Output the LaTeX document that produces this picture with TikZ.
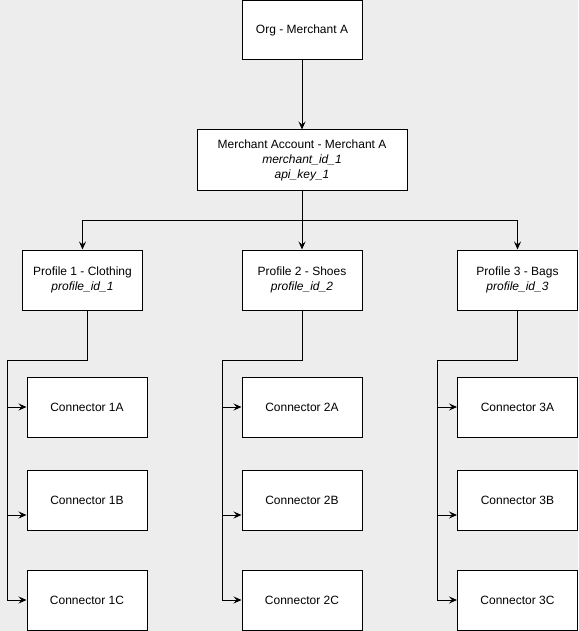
\documentclass[tikz,border=0pt]{standalone}
\usepackage{fontspec}
\setmainfont{Liberation Sans}
\usetikzlibrary{arrows.meta}
\definecolor{bgc}{RGB}{237,237,237}
\begin{document}
\begin{tikzpicture}[x=1pt,y=-1pt,
  box/.style={draw=black,fill=white,line width=1pt,inner sep=0pt,align=center,
    font=\fontsize{12}{15}\selectfont},
  small/.style={box,minimum width=120pt,minimum height=60pt},
  arr/.style={draw=black,line width=1pt,-{Stealth[length=8pt,width=7pt,inset=3pt]}},
  ln/.style={draw=black,line width=1pt}]
\fill[bgc] (0,0) rectangle (578,631);
\useasboundingbox (0,0) rectangle (578,631);
\node[box,minimum width=120pt,minimum height=59.5pt] (org) at (302,30.25) {Org - Merchant A};
\node[box,minimum width=210pt,minimum height=60pt] (ma) at (302,160)
  {Merchant Account - Merchant A\\\textit{merchant\_id\_1}\\\textit{api\_key\_1}};
\node[small] (p1) at (82.5,280) {Profile 1 - Clothing\\\textit{profile\_id\_1}};
\node[small] (p2) at (302,280) {Profile 2 - Shoes\\\textit{profile\_id\_2}};
\node[small] (p3) at (517.5,280) {Profile 3 - Bags\\\textit{profile\_id\_3}};
\node[small] (c1a) at (87,407) {Connector 1A};
\node[small] (c1b) at (87,500) {Connector 1B};
\node[small] (c1c) at (87,600) {Connector 1C};
\node[small] (c2a) at (302,407) {Connector 2A};
\node[small] (c2b) at (302,500) {Connector 2B};
\node[small] (c2c) at (302,600) {Connector 2C};
\node[small] (c3a) at (517.5,407) {Connector 3A};
\node[small] (c3b) at (517.5,500) {Connector 3B};
\node[small] (c3c) at (517.5,600) {Connector 3C};
\coordinate (j) at (302,220);
\coordinate (b1) at (7,360);
\coordinate (b2) at (222,360);
\coordinate (b3) at (437,360);
% top edges
\draw[arr] (org.south) -- (ma.north);
\draw[arr] (ma.south) -- (p2.north);
\draw[arr] (j) -| (p1.north);
\draw[arr] (j) -| (p3.north);
% column 1
\draw[ln] ([xshift=4.5pt]p1.south) |- (b1);
\draw[arr] (b1) |- (c1a.west);
\draw[arr] (b1) |- ([yshift=-15pt]c1b.west);
\draw[arr] (b1) |- (c1c.west);
% column 2
\draw[ln] (p2.south) |- (b2);
\draw[arr] (b2) |- (c2a.west);
\draw[arr] (b2) |- ([yshift=-15pt]c2b.west);
\draw[arr] (b2) |- (c2c.west);
% column 3
\draw[ln] (p3.south) |- (b3);
\draw[arr] (b3) |- (c3a.west);
\draw[arr] (b3) |- ([yshift=-15pt]c3b.west);
\draw[arr] (b3) |- (c3c.west);
\end{tikzpicture}
\end{document}
